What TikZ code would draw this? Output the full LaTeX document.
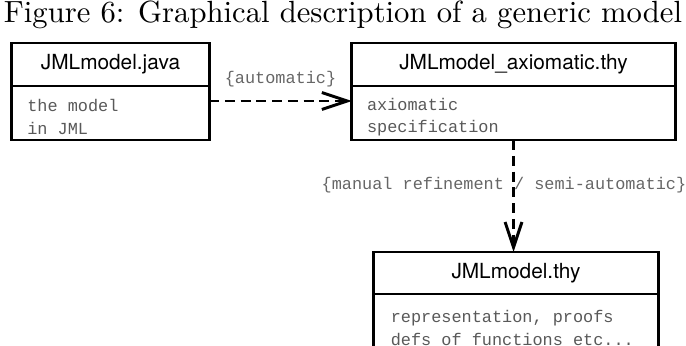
\documentclass[tikz,border=0pt]{standalone}
\usepackage{fontspec}
\newfontfamily\headfont{TeX Gyre Heros}
\newfontfamily\codefont{Liberation Mono}
\usetikzlibrary{calc}
\usetikzlibrary{arrows.meta}

\newcommand{\codestart}{\spaceskip=0.6em\relax\xspaceskip=0.6em\relax\rule{0pt}{7.2pt}}
\tikzset{
  head/.style={draw,line width=1.05pt,outer sep=0pt,inner sep=0pt,font=\headfont\fontsize{7.4}{8}\selectfont},
  body/.style={draw,line width=1.05pt,outer sep=0pt,anchor=north,align=left,inner xsep=0.19cm,
    inner ysep=0pt,text=black!65,font=\codefont\fontsize{6}{7.9}\selectfont},
  flow/.style={line width=1.05pt,dash pattern=on 3.6pt off 2pt,-{Straight Barb[length=9pt,width=6pt]}},
  tag/.style={text=black!60,font=\codefont\fontsize{6}{7}\selectfont}
}

\begin{document}
\begin{tikzpicture}[x=0.0125cm,y=-0.0125cm]

\clip (0,0) rectangle (686,346);

\node (title) at (343,15) {\fontsize{10.9}{13}\selectfont Figure 6: Graphical description of a generic model};

\node[head,minimum width=2.4625cm,minimum height=0.5375cm] (java) at (110.5,64.5) {JMLmodel.java};
\node[body,minimum width=2.4625cm,minimum height=0.675cm,text width=2.08cm] (javabody) at (java.south) {\codestart the model\\in JML};

\node[head,minimum width=4.0375cm,minimum height=0.5375cm] (axiom) at (513.5,64.5) {JMLmodel\_axiomatic.thy};
\node[body,minimum width=4.0375cm,minimum height=0.675cm,text width=3.66cm] (axiombody) at (axiom.south) {\codestart axiomatic\\specification};

\node[head,minimum width=3.55cm,minimum height=0.525cm] (thy) at (516,273) {JMLmodel.thy};
\node[body,minimum width=3.55cm,minimum height=0.75cm,text width=3.13cm] (thybody) at (thy.south) {\codestart representation, proofs\\defs of functions etc...};

\coordinate (A) at ([yshift=0.15cm]javabody.east);
\coordinate (B) at (axiombody.south);

\draw[flow] (A) -- (A -| axiombody.west) node[tag,above,midway,yshift=1pt] {\{automatic\}};
\draw[flow] (B) -- (B |- thy.north) node[tag,pos=0.4,xshift=-0.12cm] {\{manual refinement / semi-automatic\}};

\end{tikzpicture}
\end{document}
